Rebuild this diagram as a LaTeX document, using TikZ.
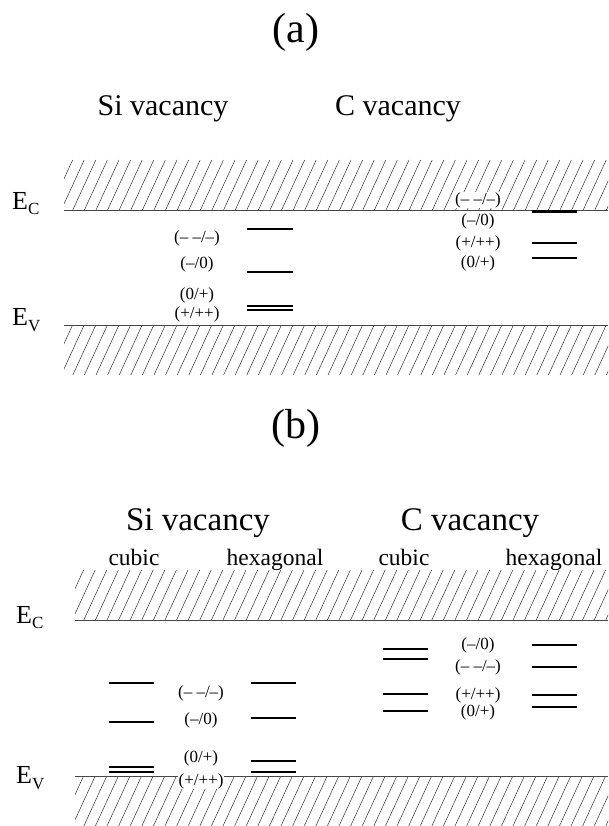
\documentclass[tikz,border=0pt]{standalone}
\usepackage{fontspec}
\setmainfont{Liberation Serif}
\newcommand\hatchband[4]{% x0, ytop, ybot, x1
  \begin{scope}
    \clip (#1,#2) rectangle (#4,#3);
    \foreach \k in {0,...,52} {
      \draw[hat] ({#1-26+\k*11.6},#3) -- ++({0.46*(#3-#2)},{-(#3-#2)});
    }
  \end{scope}}
\begin{document}
\begin{tikzpicture}[x=1pt,y=-1pt,
  lvl/.style={line width=2pt},
  bandline/.style={line width=0.9pt, black!72},
  hat/.style={line width=0.5pt, black!80},
  lab/.style={font=\fontsize{17}{17}\selectfont, inner sep=0.5pt, fill=white},
  ttla/.style={font=\fontsize{30}{30}\selectfont, anchor=base, inner sep=0pt},
  ttl/.style={font=\fontsize{33}{33}\selectfont, anchor=base, inner sep=0pt},
  subttl/.style={font=\fontsize{23.5}{23.5}\selectfont, anchor=base, inner sep=0pt},
  big/.style={font=\fontsize{42}{42}\selectfont, inner sep=0pt},
  elab/.style={font=\fontsize{26}{26}\selectfont, anchor=base west, inner sep=0pt}]
\fill[white] (0,0) rectangle (608,826);
\useasboundingbox (0,0) rectangle (608,826);

% ---------------- panel (a) ----------------
\node[big] (ta) at (296,32) {(a)};
\node[ttla] (siA) at (163,116) {Si vacancy};
\node[ttla] (cA) at (398,116) {C vacancy};

\hatchband{64}{160}{210}{608}
\hatchband{64}{325}{375}{608}
\draw[bandline] (64,210) -- (608,210);
\draw[bandline] (64,325) -- (608,325);
\node[elab] (ECa) at (12,210) {E\raisebox{-5pt}{\fontsize{17}{17}\selectfont C}};
\node[elab] (EVa) at (12,325) {E\raisebox{-6pt}{\fontsize{17}{17}\selectfont V}};

% Si levels (a)
\draw[lvl] (247,229) -- (293,229);
\draw[lvl] (247,272) -- (293,272);
\draw[lvl] (247,306) -- (293,306);
\draw[lvl] (247,310) -- (293,310);
\node[lab] (a1) at (197,238) {(– –/–)};
\node[lab] (a2) at (197,264) {(–/0)};
\node[lab] (a3) at (197,295) {(0/+)};
\node[lab] (a4) at (197,314) {(+/++)};

% C levels (a)
\draw[line width=2.4pt] (532,211.5) -- (577,211.5);
\draw[lvl] (532,243) -- (577,243);
\draw[lvl] (532,258) -- (577,258);
\node[lab] (a5) at (478,200) {(– –/–)};
\node[lab] (a6) at (478,221) {(–/0)};
\node[lab] (a7) at (478,243) {(+/++)};
\node[lab] (a8) at (478,263) {(0/+)};

% ---------------- panel (b) ----------------
\node[big] (tb) at (296,428) {(b)};
\node[ttl] (siB) at (198,530) {Si vacancy};
\node[ttl] (cB) at (470,530) {C vacancy};
\node[subttl] (s1) at (134,565) {cubic};
\node[subttl] (s2) at (275,565) {hexagonal};
\node[subttl] (s3) at (404,565) {cubic};
\node[subttl] (s4) at (554,565) {hexagonal};

\hatchband{75}{570}{620}{608}
\hatchband{75}{776}{826}{608}
\draw[bandline] (75,620) -- (608,620);
\draw[bandline] (75,776) -- (608,776);
\node[elab] (ECb) at (16,623) {E\raisebox{-5pt}{\fontsize{17}{17}\selectfont C}};
\node[elab] (EVb) at (16,783) {E\raisebox{-6pt}{\fontsize{17}{17}\selectfont V}};

% Si cubic (b)
\draw[lvl] (109,683) -- (154,683);
\draw[lvl] (109,722) -- (154,722);
\draw[lvl] (109,767) -- (154,767);
\draw[lvl] (109,771.5) -- (154,771.5);
% Si hexagonal (b)
\draw[lvl] (251,683) -- (296,683);
\draw[lvl] (251,718) -- (296,718);
\draw[lvl] (251,761) -- (296,761);
\draw[lvl] (251,772) -- (296,772);
\node[lab] (b1) at (201,693) {(– –/–)};
\node[lab] (b2) at (201,720) {(–/0)};
\node[lab] (b3) at (201,758) {(0/+)};
\node[lab] (b4) at (201,781) {(+/++)};

% C cubic (b)
\draw[lvl] (383,649) -- (428,649);
\draw[lvl] (383,659) -- (428,659);
\draw[lvl] (383,694) -- (428,694);
\draw[lvl] (383,711) -- (428,711);
% C hexagonal (b)
\draw[lvl] (532,645) -- (577,645);
\draw[lvl] (532,667) -- (577,667);
\draw[lvl] (532,695) -- (577,695);
\draw[lvl] (532,707) -- (577,707);
\node[lab] (b5) at (478,645) {(–/0)};
\node[lab] (b6) at (478,667) {(– –/–)};
\node[lab] (b7) at (478,695) {(+/++)};
\node[lab] (b8) at (478,712) {(0/+)};
\end{tikzpicture}
\end{document}
